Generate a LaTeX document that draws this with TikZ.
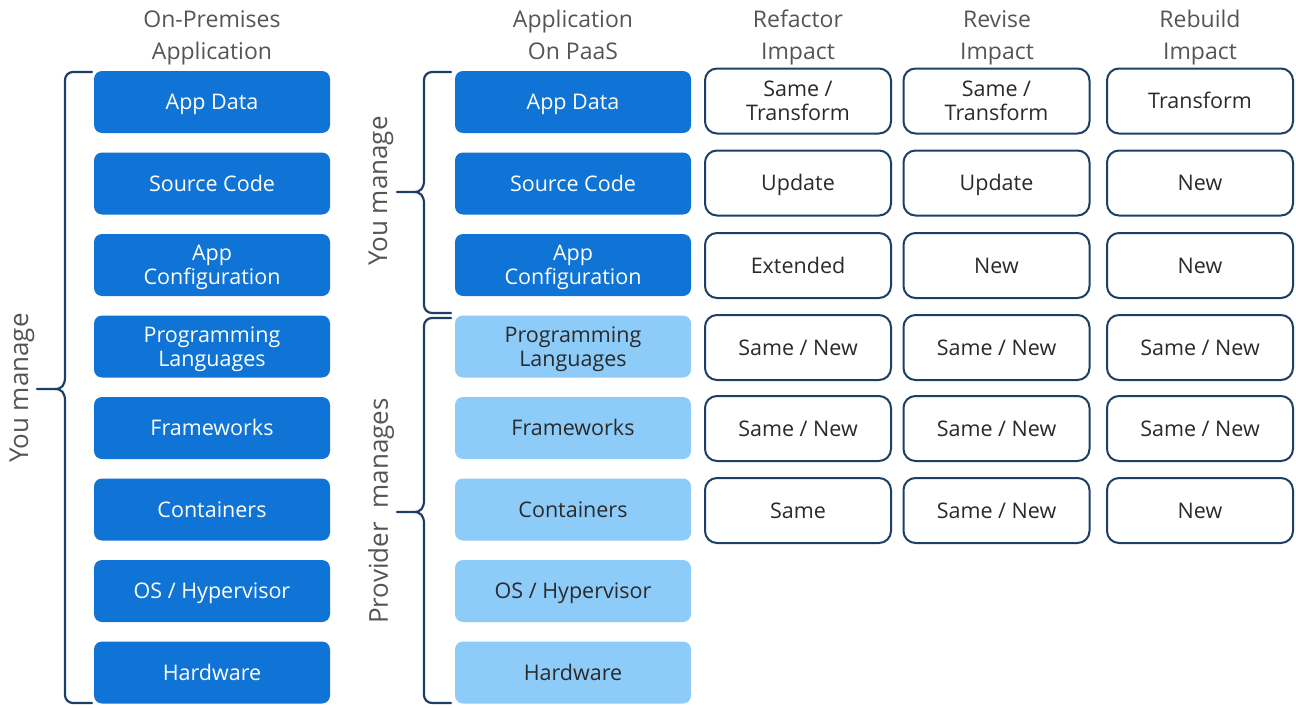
\documentclass[tikz,border=0pt]{standalone}
\usepackage{fontspec}
\setmainfont{Open Sans}
\definecolor{ownblue}{HTML}{0F74D5}
\definecolor{paasblue}{HTML}{8DCBF9}
\definecolor{navy}{HTML}{1D3F66}
\definecolor{headgray}{HTML}{555555}
\definecolor{inkdark}{HTML}{2A2A2A}
\tikzset{
  layer/.style={rounded corners=8pt, minimum width=236pt, minimum height=62pt,
    inner sep=0pt, align=center, font={\fontsize{21.5}{24}\selectfont},
    text height=15.5pt, text depth=0pt},
  twoline/.style={text height=39.5pt, text depth=0pt},
  ownlayer/.style={layer, fill=ownblue, text=white},
  paaslayer/.style={layer, fill=paasblue, text=inkdark},
  impact/.style={draw=navy, line width=2pt, rounded corners=12pt, fill=white,
    minimum width=186pt, minimum height=65pt, inner sep=0pt, align=center,
    text=inkdark, font={\fontsize{21.5}{24}\selectfont},
    text height=15.5pt, text depth=0pt},
  header/.style={align=center, text=headgray, inner sep=0pt,
    font={\fontsize{23}{32}\selectfont}, text height=49pt, text depth=0pt},
  sidelabel/.style={rotate=90, text=headgray, inner sep=0pt,
    font={\fontsize{26}{30}\selectfont}},
  bracepen/.style={draw=navy, line width=2.2pt, line cap=round, line join=round}
}
% left-opening curly brace: right end x, spine x, tip x, top y, tip y, bottom y
\newcommand\ownbrace[6]{%
  \draw[bracepen] (#1,#4) -- ({#2+8},#4) to[out=180,in=90] (#2,{#4+8})
    -- (#2,{#5-12}) .. controls (#2,{#5-4}) and ({#2-3},#5) .. ({#2-10},#5) -- (#3,#5);
  \draw[bracepen] (#1,#6) -- ({#2+8},#6) to[out=180,in=270] (#2,{#6-8})
    -- (#2,{#5+12}) .. controls (#2,{#5+4}) and ({#2-3},#5) .. ({#2-10},#5);
}
\begin{document}
\begin{tikzpicture}[x=1pt,y=-1pt]
\useasboundingbox (0,0) rectangle (1296,707);

% column headers
\node[header] (h1) at (212,34.5) {On-Premises\\Application};
\node[header] (h2) at (573,34.5) {Application\\On PaaS};
\node[header] (h3) at (798,34.5) {Refactor\\Impact};
\node[header] (h4) at (997,34.5) {Revise\\Impact};
\node[header] (h5) at (1200,34.5) {Rebuild\\Impact};

% on-premises stack
\node[ownlayer] (p1) at (212,102) {App Data};
\node[ownlayer] (p2) at (212,183.5) {Source Code};
\node[ownlayer,twoline] (p3) at (212,265) {App\\Configuration};
\node[ownlayer,twoline] (p4) at (212,346.5) {Programming\\Languages};
\node[ownlayer] (p5) at (212,428) {Frameworks};
\node[ownlayer] (p6) at (212,509.5) {Containers};
\node[ownlayer] (p7) at (212,591) {OS / Hypervisor};
\node[ownlayer] (p8) at (212,672.5) {Hardware};

% PaaS stack
\node[ownlayer] (q1) at (573,102) {App Data};
\node[ownlayer] (q2) at (573,183.5) {Source Code};
\node[ownlayer,twoline] (q3) at (573,265) {App\\Configuration};
\node[paaslayer,twoline] (q4) at (573,346.5) {Programming\\Languages};
\node[paaslayer] (q5) at (573,428) {Frameworks};
\node[paaslayer] (q6) at (573,509.5) {Containers};
\node[paaslayer] (q7) at (573,591) {OS / Hypervisor};
\node[paaslayer] (q8) at (573,672.5) {Hardware};

% refactor impact
\node[impact,twoline] (r1) at (798,101) {Same /\\Transform};
\node[impact] (r2) at (798,183) {Update};
\node[impact] (r3) at (798,265.5) {Extended};
\node[impact] (r4) at (798,347.5) {Same / New};
\node[impact] (r5) at (798,428.5) {Same / New};
\node[impact] (r6) at (798,510.5) {Same};

% revise impact
\node[impact,twoline] (v1) at (996.5,101) {Same /\\Transform};
\node[impact] (v2) at (996.5,183) {Update};
\node[impact] (v3) at (996.5,265.5) {New};
\node[impact] (v4) at (996.5,347.5) {Same / New};
\node[impact] (v5) at (996.5,428.5) {Same / New};
\node[impact] (v6) at (996.5,510.5) {Same / New};

% rebuild impact
\node[impact] (b1) at (1200,101) {Transform};
\node[impact] (b2) at (1200,183) {New};
\node[impact] (b3) at (1200,265.5) {New};
\node[impact] (b4) at (1200,347.5) {Same / New};
\node[impact] (b5) at (1200,428.5) {Same / New};
\node[impact] (b6) at (1200,510.5) {New};

% responsibility braces
\ownbrace{92}{65}{37}{72}{389}{703}
\ownbrace{451}{424}{397}{72}{192}{313}
\ownbrace{451}{424}{397}{318}{512}{703}

\node[sidelabel] (l1) at (22,388) {You manage};
\node[sidelabel] (l2) at (381,191) {You manage};
\node[sidelabel] (l3) at (381,511) {Provider\ \ manages};
\end{tikzpicture}
\end{document}
